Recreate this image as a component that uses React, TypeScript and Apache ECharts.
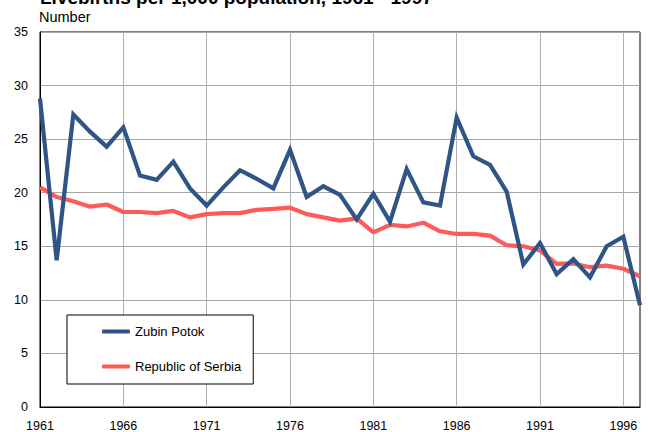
import React, { useEffect, useRef } from "react";
import * as echarts from "echarts";

const years: string[] = [];
for (let y = 1961; y <= 1997; y++) years.push(String(y));

const zubinPotok = [
  28.8, 13.7, 27.3, 25.7, 24.3, 26.1, 21.6, 21.2, 22.9, 20.4,
  18.8, 20.5, 22.1, 21.3, 20.4, 24.0, 19.6, 20.6, 19.8, 17.5,
  19.9, 17.3, 22.2, 19.1, 18.8, 27.0, 23.4, 22.6, 20.1, 13.3,
  15.3, 12.4, 13.8, 12.1, 15.0, 15.9, 9.5,
];

const serbia = [
  20.5, 19.6, 19.2, 18.7, 18.9, 18.2, 18.2, 18.1, 18.3, 17.7,
  18.0, 18.1, 18.1, 18.4, 18.5, 18.6, 18.0, 17.7, 17.4, 17.6,
  16.3, 17.0, 16.85, 17.2, 16.4, 16.15, 16.15, 16.0, 15.1, 15.0,
  14.6, 13.35, 13.4, 13.05, 13.2, 12.9, 12.2,
];

const titleText = "Livebirths per 1,000 population, 1961 - 1997";
const unitText = "Number";

const FONT = "'Liberation Sans', Arial, sans-serif";

export default function App() {
  const ref = useRef<HTMLDivElement>(null);
  useEffect(() => {
    if (!ref.current) return;
    const chart = echarts.init(ref.current, undefined, { renderer: "svg" });
    chart.setOption({
      animation: false,
      backgroundColor: "#fff",
      textStyle: { fontFamily: FONT },
      graphic: [
        {
          type: "text",
          left: 40,
          top: -12,
          style: {
            text: titleText,
            font: `bold 19px ${FONT}`,
            fill: "#000",
          },
        },
        {
          type: "text",
          left: 39,
          top: 9,
          style: {
            text: unitText,
            font: `14.5px ${FONT}`,
            fill: "#000",
          },
        },
      ],
      grid: {
        left: 40,
        right: 8,
        top: 32,
        bottom: 23,
        show: true,
        borderColor: "#000",
        borderWidth: 1,
        backgroundColor: "transparent",
      },
      legend: {
        left: 67,
        top: 315,
        orient: "vertical",
        backgroundColor: "#fff",
        borderColor: "#000",
        borderWidth: 1,
        borderRadius: 0,
        padding: [10, 12, 11, 35],
        itemGap: 22,
        itemWidth: 28,
        itemHeight: 4,
        icon: "roundRect",
        textStyle: { fontSize: 13, color: "#000", fontFamily: FONT },
        data: ["Zubin Potok", "Republic of Serbia"],
      },
      xAxis: {
        type: "category",
        data: years,
        boundaryGap: false,
        axisLine: { show: true, lineStyle: { color: "#000", width: 1 } },
        axisTick: { show: false },
        axisLabel: {
          interval: 4,
          color: "#000",
          fontSize: 12.5,
          fontFamily: FONT,
          margin: 12,
        },
        splitLine: {
          show: true,
          interval: 4,
          lineStyle: { color: "#b0b0b0", width: 1 },
        },
      },
      yAxis: {
        type: "value",
        min: 0,
        max: 35,
        interval: 5,
        axisLine: { show: true, lineStyle: { color: "#000", width: 1 } },
        axisTick: { show: false },
        axisLabel: {
          color: "#000",
          fontSize: 12.5,
          fontFamily: FONT,
          margin: 12,
        },
        splitLine: {
          show: true,
          lineStyle: { color: "#a6a6a6", width: 1 },
        },
      },
      series: [
        {
          name: "Zubin Potok",
          type: "line",
          data: zubinPotok,
          showSymbol: false,
          symbol: "none",
          color: "#2E5586",
          lineStyle: { width: 4.2, color: "#2E5586", join: "miter" },
          z: 3,
        },
        {
          name: "Republic of Serbia",
          type: "line",
          data: serbia,
          showSymbol: false,
          symbol: "none",
          color: "#FF5A5A",
          lineStyle: { width: 4.2, color: "#FF5A5A" },
          z: 2,
        },
      ],
    });
    return () => chart.dispose();
  }, []);
  return (
    <div
      ref={ref}
      style={{ position: "fixed", left: 0, top: 0, width: 648, height: 432 }}
    />
  );
}
